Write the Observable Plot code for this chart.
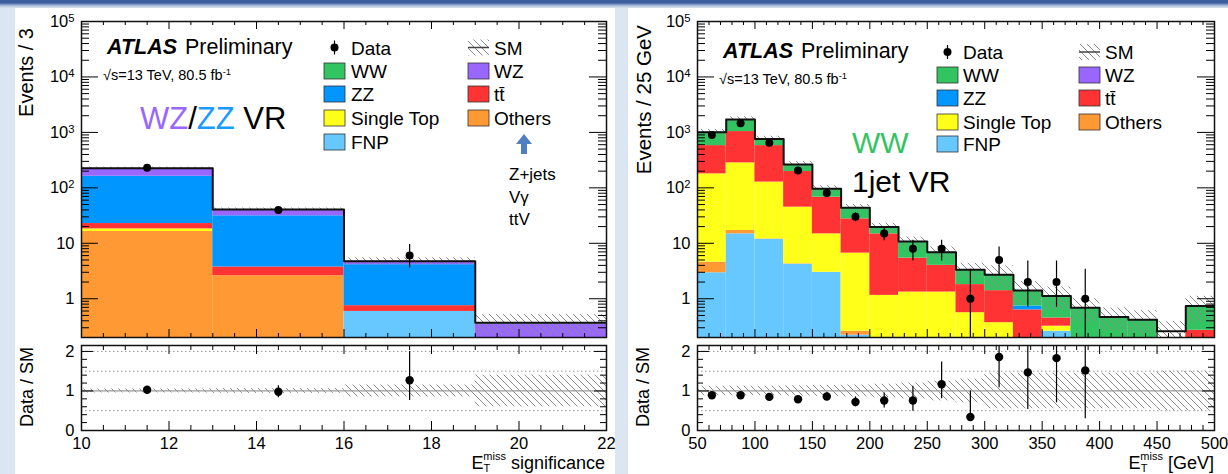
<!DOCTYPE html>
<html>
<head>
<meta charset="utf-8">
<script src="https://cdn.jsdelivr.net/npm/d3@7"></script>
<script src="https://cdn.jsdelivr.net/npm/@observablehq/plot@0.6"></script>
<style>
html,body{margin:0;padding:0;}
body{width:1228px;height:474px;position:relative;overflow:hidden;background:#dce6f2;font-family:"Liberation Sans",Arial,Helvetica,sans-serif;}
.topbar{position:absolute;left:0;top:0;width:1228px;height:8px;background:linear-gradient(#3a5e9e 0%,#3a5e9e 35%,#a9bcdb 70%,#dce6f2 100%);}
.panel{position:absolute;top:8px;height:466px;background:#fff;}
.plot{position:absolute;}
</style>
</head>
<body>
<div class="topbar"></div>
<div class="panel" style="left:15px;width:600px"></div>
<div class="panel" style="left:628px;width:600px"></div>
<svg width="0" height="0" style="position:absolute;left:0;top:0">
  <defs>
    <pattern id="hatch" patternUnits="userSpaceOnUse" width="7" height="7">
      <path d="M-1,-1L8,8M-1,6L1,8M6,-1L8,1" stroke="#8c8c8c" stroke-width="1" fill="none"/>
    </pattern>
  </defs>
</svg>
<div id="lm" class="plot" style="left:0;top:0;width:614px;height:340px"></div>
<div id="lr" class="plot" style="left:0;top:340px;width:614px;height:134px"></div>
<div id="rm" class="plot" style="left:614px;top:0;width:614px;height:340px"></div>
<div id="rr" class="plot" style="left:614px;top:340px;width:614px;height:134px"></div>
<div id="ovwrap" class="plot" style="left:0;top:0;width:1228px;height:474px;pointer-events:none"></div>
<script>
// ---------- shared ----------
const comps = ["FNP", "Others", "Single Top", "ttbar", "ZZ", "WZ", "WW"];
const compColors = ["#66c8ff", "#ff9933", "#ffff1a", "#ff3333", "#0096ff", "#9966ff", "#33c462"];

// ---------- LEFT: WZ/ZZ VR, E_T^miss significance ----------
const sigEdges = [10, 13, 16, 19, 22];
const sigFNP = [0, 0, 0.59, 0];
const sigOthers = [16.3, 2.6, 0, 0];
const sigSingleTop = [1.9, 0, 0, 0];
const sigTtbar = [4.5, 1.14, 0.16, 0];
const sigZZ = [139, 27.6, 3.37, 0];
const sigWZ = [62, 9.2, 0.61, 0.35];
const sigWW = [1.0, 0.3, 0.03, 0.02];
const sigSM = [225, 40.8, 4.76, 0.37];
const sigSMUnc = [0.05, 0.06, 0.15, 0.4];
const sigDataX = [11.5, 14.5, 17.5];
const sigData = [231, 40, 6];
const sigDataLo = [216, 33.7, 3.6];
const sigDataHi = [246, 46.3, 9.5];
const sigRatio = [1.03, 0.98, 1.27];
const sigRatioLo = [0.96, 0.83, 0.76];
const sigRatioHi = [1.10, 1.13, 2.0];
const sigTicks = [10, 12, 14, 16, 18, 20, 22];

// ---------- RIGHT: WW 1jet VR, E_T^miss ----------
const metEdges = [50, 75, 100, 125, 150, 175, 200, 225, 250, 275, 300, 325, 350, 375, 400, 425, 450, 475, 500];
const metFNP = [2.94, 14.8, 11.8, 4.2, 3.0, 0.22, 0, 0, 0, 0, 0, 0, 0.26, 0, 0, 0, 0, 0];
const metOthers = [1.64, 2.2, 0.2, 0.07, 0, 0.04, 0, 0, 0, 0, 0, 0, 0, 0, 0, 0, 0, 0];
const metSingleTop = [174, 265, 115, 40.6, 11.8, 6.39, 1.15, 1.32, 1.32, 0.56, 0.37, 0, 0.06, 0, 0, 0, 0, 0];
const metTtbar = [399, 753, 451, 152, 53.2, 20.95, 13.65, 4.08, 2.68, 1.24, 1.03, 0.63, 0.13, 0, 0, 0, 0, 0.27];
const metZZ = [0, 0, 0, 0, 0, 0, 0, 0, 0, 0, 0, 0.11, 0, 0, 0, 0, 0, 0];
const metWZ = [0, 0, 0, 0, 0, 0, 0, 0, 0, 0, 0, 0, 0, 0, 0, 0, 0, 0];
const metWW = [430, 665, 186, 66, 28, 16, 4.8, 5.4, 2.9, 1.55, 1.3, 0.67, 0.67, 0.69, 0.47, 0.42, 0.12, 0.47];
const metSM = [1008, 1700, 764, 263, 96, 43.6, 19.6, 10.8, 6.9, 3.35, 2.7, 1.41, 1.12, 0.69, 0.47, 0.42, 0.26, 0.74];
const metSMUnc = [0.12, 0.12, 0.12, 0.13, 0.14, 0.15, 0.17, 0.2, 0.25, 0.3, 0.45, 0.45, 0.45, 0.45, 0.45, 0.45, 0.5, 0.5];
const metDataX = [62.5, 87.5, 112.5, 137.5, 162.5, 187.5, 212.5, 237.5, 262.5, 287.5, 312.5, 337.5, 362.5, 387.5];
const metData = [900, 1460, 650, 205, 81, 30, 15, 8, 8, 1, 5, 2, 2, 1];
const metDataLo = [870, 1422, 624, 191, 72, 24.5, 11.1, 4.8, 4.8, 0.1, 2.7, 0.7, 0.7, 0.1];
const metDataHi = [930, 1498, 676, 219, 90, 35.5, 18.9, 11.4, 11.4, 3.4, 8.6, 4.8, 4.8, 3.4];
const metRatio = [0.89, 0.89, 0.85, 0.79, 0.86, 0.72, 0.76, 0.76, 1.17, 0.34, 1.86, 1.47, 1.83, 1.52];
const metRatioLo = [0.86, 0.86, 0.82, 0.74, 0.77, 0.6, 0.57, 0.49, 0.8, 0.34, 1.08, 0.53, 0.7, 0.3];
const metRatioHi = [0.92, 0.92, 0.88, 0.84, 0.95, 0.85, 0.95, 1.12, 1.73, 1.0, 3, 3, 3, 3];
const metTicks = [50, 100, 150, 200, 250, 300, 350, 400, 450, 500];

// ---------- helpers ----------
const FONT = '"Liberation Sans", Arial, Helvetica, sans-serif';

function stackRows(edges, series) {
  const rows = [];
  for (let i = 0; i < edges.length - 1; i++) {
    let acc = 0;
    series.forEach((vals, k) => {
      const v = vals[i];
      if (v > 0) rows.push({x1: edges[i], x2: edges[i + 1], y1: Math.max(acc, 1e-3), y2: acc + v, comp: comps[k]});
      acc += v;
    });
  }
  return rows;
}

function tickMarks(xMajor, xMinor, yMajor, yMinor, fw, fh, L) {
  const tx = (vals, len) => [
    Plot.ruleX(vals, {x: d => d, insetTop: fh - len, stroke: "#000", strokeWidth: 1}),
    Plot.ruleX(vals, {x: d => d, insetBottom: fh - len, stroke: "#000", strokeWidth: 1})
  ];
  const ty = (vals, len) => [
    Plot.ruleY(vals, {y: d => d, insetRight: fw - len, stroke: "#000", strokeWidth: 1}),
    Plot.ruleY(vals, {y: d => d, insetLeft: fw - len, stroke: "#000", strokeWidth: 1})
  ];
  return [...tx(xMajor, L[0]), ...tx(xMinor, L[1]), ...ty(yMajor, L[2]), ...ty(yMinor, L[3])];
}

function supers(svg) {
  svg.querySelectorAll("text").forEach(t => {
    const s = t.textContent;
    if (s.includes("^")) {
      const [b, e] = s.split("^");
      t.textContent = b;
      const ts = document.createElementNS("http://www.w3.org/2000/svg", "tspan");
      ts.setAttribute("dy", "-0.45em");
      ts.setAttribute("font-size", "0.68em");
      ts.textContent = e;
      t.appendChild(ts);
    }
  });
}

function drawMain(el, c) {
  const W = 614, H = 340, mt = 21, mb = 3;
  const fw = W - c.ml - c.mr, fh = H - mt - mb;
  const nb = c.edges.length - 1;
  const rows = stackRows(c.edges, c.series);
  const bins = d3.range(nb).map(i => ({x1: c.edges[i], x2: c.edges[i + 1], sm: c.sm[i], u: c.unc[i]}));
  const step = bins.flatMap(b => [{x: b.x1, y: b.sm}, {x: b.x2, y: b.sm}]);
  const pts = c.dataX.map((x, i) => ({x, y: c.data[i], lo: c.dataLo[i], hi: c.dataHi[i]}));
  const yMajor = [1, 10, 100, 1000, 1e4, 1e5];
  const yMinor = [];
  for (let k = -1; k <= 4; k++) for (let m = 2; m <= 9; m++) { const v = m * Math.pow(10, k); if (v >= 0.2 && v < 1e5) yMinor.push(v); }
  const svg = Plot.plot({
    width: W, height: H, marginLeft: c.ml, marginRight: c.mr, marginTop: mt, marginBottom: mb,
    style: {background: "transparent", fontFamily: FONT, fontSize: "16.5px", overflow: "visible"},
    x: {domain: [c.edges[0], c.edges[nb]], axis: null},
    y: {type: "log", domain: [0.2, 1e5], ticks: yMajor,
        tickFormat: d => d === 1 ? "1" : d === 10 ? "10" : "10^" + Math.round(Math.log10(d)),
        tickSize: 0, tickPadding: 7, label: null},
    color: {domain: comps, range: compColors},
    marks: [
      Plot.rect(rows, {x1: "x1", x2: "x2", y1: "y1", y2: "y2", fill: "comp", inset: 0, clip: true}),
      Plot.rect(bins, {x1: "x1", x2: "x2", y1: b => b.sm * (1 - b.u), y2: b => b.sm * (1 + b.u), fill: "url(#hatch)", inset: 0, clip: true}),
      Plot.line(step, {x: "x", y: "y", stroke: "#111", strokeWidth: 2, clip: true}),
      ...tickMarks(c.xMajor, c.xMinor, yMajor, yMinor, fw, fh, [8, 4, 17, 8]),
      Plot.ruleX(pts, {x: "x", y1: "lo", y2: "hi", stroke: "#000", strokeWidth: 1.2, clip: true}),
      Plot.dot(pts, {x: "x", y: "y", r: 4, fill: "#000", stroke: null, clip: true}),
      Plot.frame({stroke: "#111", strokeWidth: 1.5})
    ]
  });
  supers(svg);
  el.appendChild(svg);
}

function drawRatio(el, c) {
  const W = 614, H = 134, mt = 5, mb = 44;
  const fw = W - c.ml - c.mr, fh = H - mt - mb;
  const nb = c.edges.length - 1;
  const bins = d3.range(nb).map(i => ({x1: c.edges[i], x2: c.edges[i + 1], u: c.unc[i]}));
  const pts = c.dataX.map((x, i) => ({x, y: c.ratio[i], lo: c.lo[i], hi: c.hi[i]}));
  const yMinor = [0.2, 0.4, 0.6, 0.8, 1.2, 1.4, 1.6, 1.8];
  const svg = Plot.plot({
    width: W, height: H, marginLeft: c.ml, marginRight: c.mr, marginTop: mt, marginBottom: mb,
    style: {background: "transparent", fontFamily: FONT, fontSize: "16.5px", overflow: "visible"},
    x: {domain: [c.edges[0], c.edges[nb]], ticks: c.xLabels, tickFormat: d => String(d), tickSize: 0, tickPadding: 7, label: null},
    y: {domain: [0, 2.15], ticks: [0, 1, 2], tickFormat: d => String(d), tickSize: 0, tickPadding: 7, label: null},
    marks: [
      Plot.ruleY([0.5, 1.5, 2], {stroke: "#999", strokeWidth: 1, strokeDasharray: "1.5,2.5"}),
      Plot.rect(bins, {x1: "x1", x2: "x2", y1: b => 1 - b.u, y2: b => 1 + b.u, fill: "url(#hatch)", inset: 0, clip: true}),
      Plot.ruleY([1], {stroke: "#999", strokeWidth: 1.2}),
      ...tickMarks(c.xMajor, c.xMinor, [0, 1, 2], yMinor, fw, fh, [9, 5, 12, 6]),
      Plot.ruleX(pts, {x: "x", y1: "lo", y2: "hi", stroke: "#000", strokeWidth: 1.2, clip: true}),
      Plot.dot(pts, {x: "x", y: "y", r: 4.2, fill: "#000", stroke: null, clip: true}),
      Plot.frame({stroke: "#111", strokeWidth: 1.5})
    ]
  });
  el.appendChild(svg);
}

const sigMinor = d3.range(10, 22.01, 0.5).filter(v => v % 2 !== 0);
const metMinor = d3.range(50, 500.1, 10).filter(v => v % 50 !== 0);

drawMain(document.getElementById("lm"), {
  ml: 81, mr: 8, edges: sigEdges,
  series: [sigFNP, sigOthers, sigSingleTop, sigTtbar, sigZZ, sigWZ, sigWW],
  sm: sigSM, unc: sigSMUnc, dataX: sigDataX, data: sigData, dataLo: sigDataLo, dataHi: sigDataHi,
  xMajor: sigTicks, xMinor: sigMinor
});
drawRatio(document.getElementById("lr"), {
  ml: 81, mr: 8, edges: sigEdges, unc: sigSMUnc, dataX: sigDataX,
  ratio: sigRatio, lo: sigRatioLo, hi: sigRatioHi, xLabels: sigTicks, xMajor: sigTicks, xMinor: sigMinor
});
drawMain(document.getElementById("rm"), {
  ml: 83, mr: 14, edges: metEdges,
  series: [metFNP, metOthers, metSingleTop, metTtbar, metZZ, metWZ, metWW],
  sm: metSM, unc: metSMUnc, dataX: metDataX, data: metData, dataLo: metDataLo, dataHi: metDataHi,
  xMajor: metTicks, xMinor: metMinor
});
drawRatio(document.getElementById("rr"), {
  ml: 83, mr: 14, edges: metEdges, unc: metSMUnc, dataX: metDataX,
  ratio: metRatio, lo: metRatioLo, hi: metRatioHi, xLabels: metTicks, xMajor: metTicks, xMinor: metMinor
});

// ---------- overlay texts & legends ----------
const compColor = Object.fromEntries(comps.map((k, i) => [k, compColors[i]]));
function legend(o) {
  const r = o.rows;
  let s = "";
  const box = (x, b, fill) => `<rect x="${x}" y="${b - 15}" width="21" height="16" fill="${fill}" stroke="#333" stroke-width="0.8"/>`;
  const txt = (x, b, t) => `<text x="${x}" y="${b}" font-size="19">${t}</text>`;
  const cx = o.c1Box + 10.5, cy = r[0] - 7;
  s += `<line x1="${cx}" x2="${cx}" y1="${cy - 7}" y2="${cy + 7}" stroke="#000" stroke-width="1.2"/><circle cx="${cx}" cy="${cy}" r="4" fill="#000"/>`;
  s += txt(o.c1Text, r[0], "Data");
  [["WW", "WW", 1], ["ZZ", "ZZ", 2], ["Single Top", "Single Top", 3], ["FNP", "FNP", 4]].forEach(([k, lab, j]) => {
    s += box(o.c1Box, r[j], compColor[k]) + txt(o.c1Text, r[j], lab);
  });
  s += `<rect x="${o.c2Box}" y="${r[0] - 15}" width="21" height="16" fill="url(#hatch)"/><line x1="${o.c2Box}" x2="${o.c2Box + 21}" y1="${r[0] - 7}" y2="${r[0] - 7}" stroke="#444" stroke-width="1.5"/>`;
  s += txt(o.c2Text, r[0], "SM");
  [["WZ", "WZ", 1], ["ttbar", "tt\u0304", 2], ["Others", "Others", 3]].forEach(([k, lab, j]) => {
    s += box(o.c2Box, r[j], compColor[k]) + txt(o.c2Text, r[j], lab);
  });
  return s;
}
function atlas(x, xp, b, xs, bs) {
  return `<text x="${x}" y="${b}" font-size="21.5"><tspan font-weight="bold" font-style="italic">ATLAS</tspan><tspan x="${xp}">Preliminary</tspan></text>` +
    `<text x="${xs}" y="${bs}" font-size="14.5">\u221As=13 TeV, 80.5 fb<tspan dy="-5" font-size="9.5">-1</tspan></text>`;
}
const ov = `
<svg width="1228" height="474" xmlns="http://www.w3.org/2000/svg" style="font-family:${FONT.replace(/"/g, "'")}" fill="#000">
  ${atlas(107, 185, 54, 103, 80)}
  <text x="140" y="129" font-size="31"><tspan fill="#9966ff">WZ</tspan><tspan fill="#000">/</tspan><tspan fill="#1a9bff">ZZ</tspan><tspan fill="#000"> VR</tspan></text>
  ${legend({c1Box: 324, c1Text: 351, c2Box: 468, c2Text: 494, rows: [54.5, 78, 101, 125, 149]})}
  <polygon points="516,144 532,144 524,134" fill="#4f7fc2"/>
  <rect x="521" y="143" width="6" height="11" fill="#4f7fc2"/>
  <text x="509" y="180" font-size="17">Z+jets</text>
  <text x="509" y="203" font-size="17">V\u03B3</text>
  <text x="509" y="225" font-size="17">ttV</text>
  <text transform="translate(33,28) rotate(-90)" text-anchor="end" font-size="20">Events / 3</text>
  <text transform="translate(33,347) rotate(-90)" text-anchor="end" font-size="18">Data / SM</text>
  <text x="605" y="469" text-anchor="end" font-size="18">E<tspan font-size="11" dy="3">T</tspan><tspan font-size="11" dx="-7" dy="-12">miss</tspan><tspan font-size="18" dy="9"> significance</tspan></text>

  ${atlas(723, 801, 58, 719, 84)}
  <text x="852" y="153" font-size="30" fill="#33c462">WW</text>
  <text x="852" y="192" font-size="30">1jet VR</text>
  ${legend({c1Box: 937, c1Text: 963, c2Box: 1079, c2Text: 1105, rows: [59, 82, 105, 129, 151]})}
  <text transform="translate(651,25) rotate(-90)" text-anchor="end" font-size="20.5">Events / 25 GeV</text>
  <text transform="translate(649,347) rotate(-90)" text-anchor="end" font-size="18">Data / SM</text>
  <text x="1214" y="469" text-anchor="end" font-size="18">E<tspan font-size="11" dy="3">T</tspan><tspan font-size="11" dx="-7" dy="-12">miss</tspan><tspan font-size="18" dy="9"> [GeV]</tspan></text>
</svg>`;
document.getElementById("ovwrap").innerHTML = ov;
</script>
</body>
</html>
